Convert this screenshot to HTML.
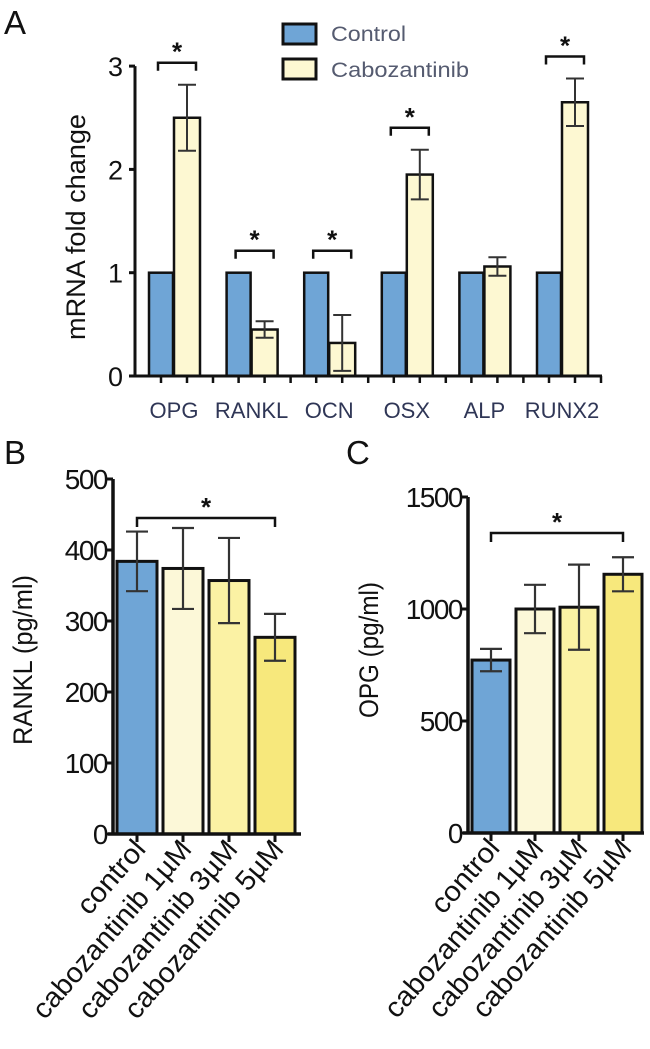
<!DOCTYPE html>
<html><head><meta charset="utf-8"><style>
html,body{margin:0;padding:0;background:#fff}
svg{display:block;font-family:"Liberation Sans",sans-serif}
</style></head><body>
<svg id="fig" width="650" height="1049" viewBox="0 0 650 1049" xmlns="http://www.w3.org/2000/svg">
<g id="A"></g>
<g id="B"></g>
<g id="C"></g>
</svg>
<script>
// Panel A data
const genes = ["OPG","RANKL","OCN","OSX","ALP","RUNX2"];
const controlVals = [1,1,1,1,1,1];
const caboVals = [2.5,0.45,0.32,1.95,1.06,2.65];
const caboErr = [0.32,0.08,0.27,0.24,0.09,0.23];
const sigA = [true,true,true,true,false,true];
const ticksA = [0,1,2,3];
// Panel B data
const groups = ["control","cabozantinib  1µM","cabozantinib  3µM","cabozantinib  5µM"];
const rankl = [384,374,357,277];
const ranklErr = [42,57,60,33];
const ticksB = [0,100,200,300,400,500];
// Panel C data
const opg = [772,1000,1008,1155];
const opgErr = [50,108,190,76];
const ticksC = [0,500,1000,1500];

const NS="http://www.w3.org/2000/svg";
function mk(parent,tag,attrs,text){const e=document.createElementNS(NS,tag);for(const k in attrs)e.setAttribute(k,attrs[k]);if(text!==undefined)e.textContent=text;parent.appendChild(e);return e;}

// ---------- Panel A ----------
const A=document.getElementById('A');
const yA=v=>376-v*103.3;
const groupX=i=>149+i*77.6;
let t=mk(A,'text',{x:4,y:34,'font-size':33,fill:'#111'},'A');


// legend
let r=mk(A,'rect',{x:283,y:24,width:33,height:20,fill:'#6fa5d6',stroke:'#111','stroke-width':3});


t=mk(A,'text',{x:331,y:41,'font-size':21,fill:'#555b70',textLength:75,lengthAdjust:'spacingAndGlyphs'},'Control');


r=mk(A,'rect',{x:283,y:59,width:33,height:20,fill:'#fdf8d2',stroke:'#111','stroke-width':3});


t=mk(A,'text',{x:331,y:77,'font-size':21,fill:'#555b70',textLength:138,lengthAdjust:'spacingAndGlyphs'},'Cabozantinib');


// y axis
let l=mk(A,'line',{x1:135,y1:yA(3),x2:135,y2:yA(0),stroke:'#111','stroke-width':3});


ticksA.forEach(v=>{
  mk(A,'line',{x1:129,y1:yA(v),x2:135,y2:yA(v),stroke:'#111','stroke-width':3});
  const tt=mk(A,'text',{x:123,y:yA(v)+10,'font-size':27,'text-anchor':'end',fill:'#111'},v);
  
  
});
t=mk(A,'text',{x:0,y:0,'font-size':27,'text-anchor':'middle',fill:'#111',textLength:226,lengthAdjust:'spacingAndGlyphs',transform:'translate(85,227) rotate(-90)'},'mRNA fold change');


genes.forEach((g,i)=>{
  const x0=groupX(i);
  const b1=mk(A,'rect',{x:x0,y:yA(controlVals[i]),width:24,height:yA(0)-yA(controlVals[i]),fill:'#6fa5d6',stroke:'#111','stroke-width':2.5});
  
  
  const b2=mk(A,'rect',{x:x0+25,y:yA(caboVals[i]),width:26,height:yA(0)-yA(caboVals[i]),fill:'#fdf8d2',stroke:'#111','stroke-width':2.5});
  
  
  const cx=x0+38, hi=yA(caboVals[i]+caboErr[i]), lo=yA(caboVals[i]-caboErr[i]);
  const eb=mk(A,'path',{d:`M${cx-9},${hi}H${cx+9}M${cx},${hi}V${lo}M${cx-9},${lo}H${cx+9}`,stroke:'#333','stroke-width':2,fill:'none'});
  
  
  mk(A,'line',{x1:x0+12,y1:376,x2:x0+12,y2:383,stroke:'#111','stroke-width':2.5});
  mk(A,'line',{x1:x0+38,y1:376,x2:x0+38,y2:383,stroke:'#111','stroke-width':2.5});
  mk(A,'line',{x1:x0+64,y1:376,x2:x0+64,y2:383,stroke:'#111','stroke-width':2.5});
  const lbl=mk(A,'text',{x:x0+25,y:418,'font-size':22,'text-anchor':'middle',fill:'#2f3656'},g);
  
  
  if(sigA[i]){
    const top=Math.max(controlVals[i],caboVals[i]+caboErr[i]);
    const by=yA(top)-22;
    const br=mk(A,'path',{d:`M${x0+9},${by+8}V${by}H${x0+47}V${by+8}`,stroke:'#111','stroke-width':2.5,fill:'none'});
    
    
    const st=mk(A,'text',{x:x0+28,y:by-2,'font-size':26,'font-weight':'bold','text-anchor':'middle',fill:'#111'},'*');
    
    
  }
});
l=mk(A,'line',{x1:130,y1:376,x2:602,y2:376,stroke:'#111','stroke-width':3});



// ---------- Panels B and C ----------
const fills=['#6fa5d6','#fcf8d8','#fbf2a4','#f7e87c'];
function panel(G,key,letter,lx,ly,axisX,y0,pxPer,ticks,vals,errs,barX,step,title,titleX,titleY,titleLen,brY,axisEnd){
  const y=v=>y0-v*pxPer;
  let t=mk(G,'text',{x:lx,y:ly,'font-size':33,fill:'#111'},letter);
  
  
  let l=mk(G,'line',{x1:axisX,y1:y(ticks[ticks.length-1]),x2:axisX,y2:y0,stroke:'#111','stroke-width':3.5});
  
  
  ticks.forEach(v=>{
    mk(G,'line',{x1:axisX-7,y1:y(v),x2:axisX,y2:y(v),stroke:'#111','stroke-width':3});
    const tt=mk(G,'text',{x:axisX-6,y:y(v)+10,'font-size':28,'text-anchor':'end',fill:'#111','letter-spacing':-1.5},v);
    
    
  });
  t=mk(G,'text',{x:0,y:0,'font-size':27,'text-anchor':'middle',fill:'#111',textLength:titleLen,lengthAdjust:'spacingAndGlyphs',transform:`translate(${titleX},${titleY}) rotate(-90)`},title);
  
  
  vals.forEach((v,i)=>{
    const x0=barX+i*step, w=step-6, cx=x0+w/2;
    const b=mk(G,'rect',{x:x0,y:y(v),width:w,height:y0-y(v),fill:fills[i],stroke:'#111','stroke-width':3});
    
    
    const hi=y(v+errs[i]),lo=y(v-errs[i]);
    const eb=mk(G,'path',{d:`M${cx-11},${hi}H${cx+11}M${cx},${hi}V${lo}M${cx-11},${lo}H${cx+11}`,stroke:'#333','stroke-width':2.2,fill:'none'});
    
    
    mk(G,'line',{x1:cx,y1:y0,x2:cx,y2:y0+8,stroke:'#111','stroke-width':3});
    const lbl=mk(G,'text',{x:0,y:0,'font-size':28,'text-anchor':'end',fill:'#111',transform:`translate(${cx+10},${y0+16}) rotate(-49)`},groups[i]);
    lbl.setAttribute('textLength',i>0?226:88);
    lbl.setAttribute('lengthAdjust','spacingAndGlyphs');
    
    
  });
  l=mk(G,'line',{x1:axisX-5,y1:y0,x2:axisEnd,y2:y0,stroke:'#111','stroke-width':3.5});
  
  
  const c0=barX+(step-6)/2, c3=barX+3*step+(step-6)/2;
  const br=mk(G,'path',{d:`M${c0},${brY+9}V${brY}H${c3}V${brY+9}`,stroke:'#111','stroke-width':2.5,fill:'none'});
  
  
  const st=mk(G,'text',{x:(c0+c3)/2,y:brY-2,'font-size':26,'font-weight':'bold','text-anchor':'middle',fill:'#111'},'*');
  
  
}
panel(document.getElementById('B'),'b','B',4,464,113,834,0.71,ticksB,rankl,ranklErr,117,46,'RANKL (pg/ml)',32,660,170,518,301);
panel(document.getElementById('C'),'c','C',346,464,468,833,0.224,ticksC,opg,opgErr,472,44,'OPG (pg/ml)',378,650,136,533,644);
</script>
</body></html>
